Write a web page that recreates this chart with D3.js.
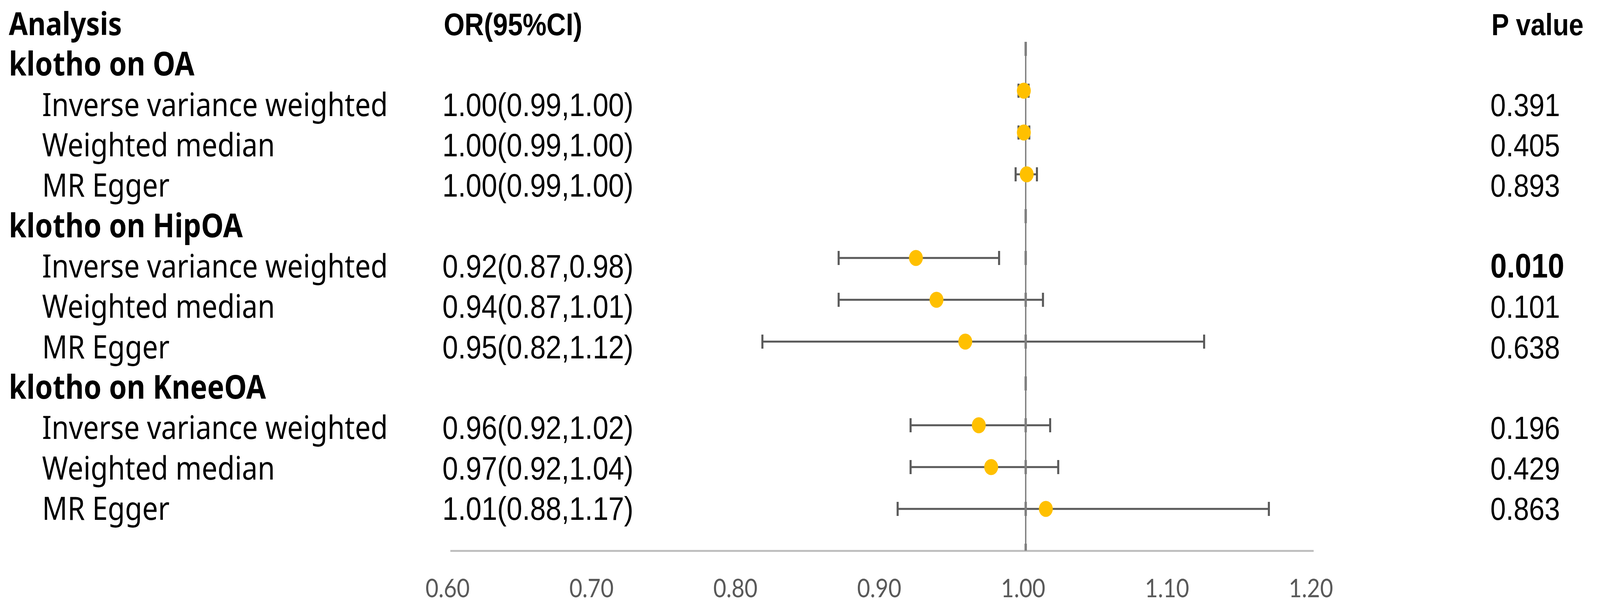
<!DOCTYPE html>
<html>
<head>
<meta charset="utf-8">
<script src="https://cdn.jsdelivr.net/npm/d3@7.9.0/dist/d3.min.js"></script>
<style>
  html, body { margin: 0; padding: 0; width: 100%; height: 100%; overflow: hidden; background: #fff; }
  svg { display: block; width: 100vw; height: 100vh; }
</style>
</head>
<body>
<svg id="chart"></svg>
<script>
// table data
const groups = ["klotho on OA", "klotho on HipOA", "klotho on KneeOA"];
const methods = ["Inverse variance weighted", "Weighted median", "MR Egger"];
const orText = [
  "1.00(0.99,1.00)", "1.00(0.99,1.00)", "1.00(0.99,1.00)",
  "0.92(0.87,0.98)", "0.94(0.87,1.01)", "0.95(0.82,1.12)",
  "0.96(0.92,1.02)", "0.97(0.92,1.04)", "1.01(0.88,1.17)"
];
const pText = ["0.391", "0.405", "0.893", "0.010", "0.101", "0.638", "0.196", "0.429", "0.863"];
const pBold = [false, false, false, true, false, false, false, false, false];

// plotted estimates (as drawn in the figure)
const orPoint = [0.9987, 0.9987, 1.0007, 0.9237, 0.938, 0.958, 0.9674, 0.976, 1.014];
const ciLow   = [0.995, 0.995, 0.993, 0.870, 0.870, 0.817, 0.920, 0.920, 0.911];
const ciHigh  = [1.002, 1.0025, 1.0078, 0.9815, 1.012, 1.124, 1.017, 1.0226, 1.169];

const xTicks = [0.6, 0.7, 0.8, 0.9, 1.0, 1.1, 1.2];

const W = 4713, H = 1553;
// viewBox stretched over the whole viewport so the layout keeps the 4713x1553 frame
const svg = d3.select("#chart")
  .attr("viewBox", `0 0 ${W} ${H}`)
  .attr("preserveAspectRatio", "none");

const x = d3.scaleLinear().domain([0.6, 1.2]).range([1326, 3869]);
const y = d3.scaleLinear().domain([0, 12]).range([1409, 125]);     // plot rows
const rowY = d3.scaleLinear().domain([0, 12]).range([90, 1330]);   // table text baselines

// flatten into one row per estimate
const rows = [];
groups.forEach((g, gi) => {
  methods.forEach((m, mi) => {
    const i = gi * 3 + mi;
    rows.push({
      method: m, or: orPoint[i], lo: ciLow[i], hi: ciHigh[i],
      label: orText[i], p: pText[i], bold: pBold[i],
      v: 11 - 4 * gi - mi,  // y position in the plot
      r: 2 + 4 * gi + mi    // table row
    });
  });
});

// ---- table text ----
const txt = svg.append("g").attr("fill", "#000");

txt.append("text").attr("x", 26).attr("y", rowY(0))
  .attr("font-family", "Noto Sans").attr("font-weight", "bold").attr("font-size", 81)
  .text("Analysis");
txt.append("text").attr("x", 1307).attr("y", rowY(0))
  .attr("font-family", "Liberation Sans").attr("font-weight", "bold").attr("font-size", 79)
  .text("OR(95%CI)");
txt.append("text").attr("x", 4393).attr("y", rowY(0))
  .attr("font-family", "Liberation Sans").attr("font-weight", "bold").attr("font-size", 78)
  .text("P value");

txt.selectAll(".grp").data(groups).enter().append("text")
  .attr("class", "grp")
  .attr("x", 26).attr("y", (d, i) => rowY(1 + 4 * i))
  .attr("font-family", "Noto Sans").attr("font-weight", "bold").attr("font-size", 84)
  .text(d => d);

txt.selectAll(".meth").data(rows).enter().append("text")
  .attr("class", "meth")
  .attr("x", 124).attr("y", d => rowY(d.r))
  .attr("font-family", "Noto Sans").attr("font-size", 82.5)
  .text(d => d.method);

txt.selectAll(".ort").data(rows).enter().append("text")
  .attr("class", "ort")
  .attr("x", 1303).attr("y", d => rowY(d.r))
  .attr("font-family", "Liberation Sans").attr("font-size", 83)
  .text(d => d.label);

txt.selectAll(".pv").data(rows).enter().append("text")
  .attr("class", "pv")
  .attr("x", 4390).attr("y", d => rowY(d.r))
  .attr("font-family", "Liberation Sans")
  .attr("font-weight", d => d.bold ? "bold" : "normal")
  .attr("font-size", d => d.bold ? 87 : 82)
  .text(d => d.p);

// ---- x axis ----
const axis = svg.append("g")
  .attr("transform", `translate(0,${y(0)})`)
  .call(d3.axisBottom(x).tickValues(xTicks).tickFormat(d3.format(".2f")).tickSize(0).tickSizeOuter(0));
axis.select(".domain").attr("stroke", "#bfbfbf").attr("stroke-width", 5);
axis.selectAll("text")
  .attr("y", 119).attr("dy", 0).attr("dx", -8)
  .attr("fill", "#595959")
  .attr("font-family", "Lato").attr("font-size", 66);

// ---- CI bars ----
const capH = 18;
const bars = svg.append("g").attr("stroke", "#595959");
bars.selectAll(".ci").data(rows).enter().append("line")
  .attr("x1", d => x(d.lo)).attr("x2", d => x(d.hi))
  .attr("y1", d => y(d.v)).attr("y2", d => y(d.v))
  .attr("stroke-width", 5);
bars.selectAll(".capL").data(rows).enter().append("line")
  .attr("x1", d => x(d.lo)).attr("x2", d => x(d.lo))
  .attr("y1", d => y(d.v) - capH).attr("y2", d => y(d.v) + capH)
  .attr("stroke-width", 6);
bars.selectAll(".capR").data(rows).enter().append("line")
  .attr("x1", d => x(d.hi)).attr("x2", d => x(d.hi))
  .attr("y1", d => y(d.v) - capH).attr("y2", d => y(d.v) + capH)
  .attr("stroke-width", 6);

// ---- reference line at OR = 1 ----
const ref = svg.append("g").attr("stroke", "#7f7f7f");
ref.append("line")
  .attr("x1", x(1)).attr("x2", x(1))
  .attr("y1", y(12) - capH).attr("y2", y(0))
  .attr("stroke-width", 4);
ref.selectAll(".rc").data(d3.range(0, 13)).enter().append("line")
  .attr("x1", x(1)).attr("x2", x(1))
  .attr("y1", d => y(d) - capH).attr("y2", d => Math.min(y(d) + capH, y(0)))
  .attr("stroke-width", 7);

// ---- point estimates ----
svg.append("g").selectAll("circle").data(rows).enter().append("circle")
  .attr("cx", d => x(d.or)).attr("cy", d => y(d.v))
  .attr("r", 20.5)
  .attr("fill", "#ffc000");
</script>
</body>
</html>
